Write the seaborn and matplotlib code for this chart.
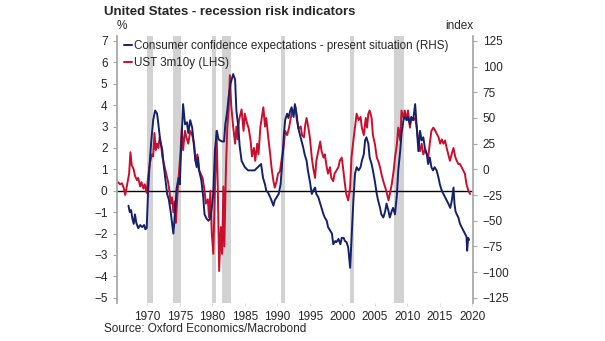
import matplotlib
matplotlib.use("Agg")
import matplotlib.pyplot as plt
from matplotlib.lines import Line2D
import seaborn as sns
import pandas as pd

# UST 3m10y term spread, % (left axis)
ust_years = [
    1965.5, 1965.8, 1966.1, 1966.4, 1966.6, 1966.9, 1967.2, 1967.4, 1967.6, 1967.9,
    1968.1, 1968.4, 1968.6, 1968.9, 1969.1, 1969.4, 1969.6, 1969.9, 1970.1, 1970.4,
    1970.7, 1970.9, 1971.1, 1971.3, 1971.5, 1971.7, 1971.9, 1972.1, 1972.3, 1972.6,
    1972.9, 1973.2, 1973.4, 1973.6, 1973.8, 1974.0, 1974.2, 1974.4, 1974.6, 1974.9,
    1975.1, 1975.3, 1975.5, 1975.8, 1976.0, 1976.3, 1976.6, 1976.9, 1977.2, 1977.4,
    1977.7, 1977.9, 1978.2, 1978.5, 1978.8, 1979.0, 1979.3, 1979.5, 1979.7, 1979.9,
    1980.15, 1980.4, 1980.65, 1980.85, 1981.05, 1981.3, 1981.5, 1981.7, 1981.85, 1982.1,
    1982.3, 1982.5, 1982.7, 1982.9, 1983.2, 1983.5, 1983.7, 1983.9, 1984.1, 1984.5,
    1984.8, 1985.0, 1985.3, 1985.6, 1985.9, 1986.1, 1986.4, 1986.6, 1986.9, 1987.1,
    1987.4, 1987.85, 1988.1, 1988.3, 1988.6, 1988.9, 1989.1, 1989.4, 1989.6, 1989.9,
    1990.1, 1990.4, 1990.7, 1990.95, 1991.2, 1991.5, 1991.8, 1992.0, 1992.3, 1992.5,
    1992.8, 1993.0, 1993.3, 1993.6, 1993.8, 1994.1, 1994.3, 1994.5, 1994.8, 1995.0,
    1995.3, 1995.5, 1995.8, 1996.0, 1996.3, 1996.6, 1996.8, 1997.1, 1997.3, 1997.6,
    1997.8, 1998.1, 1998.3, 1998.6, 1998.8, 1999.1, 1999.4, 1999.6, 1999.9, 2000.1,
    2000.4, 2000.6, 2000.9, 2001.2, 2001.4, 2001.7, 2002.0, 2002.2, 2002.5, 2002.8,
    2003.0, 2003.3, 2003.6, 2003.8, 2004.0, 2004.2, 2004.5, 2004.7, 2005.0, 2005.3,
    2005.5, 2005.8, 2006.0, 2006.3, 2006.6, 2006.8, 2007.1, 2007.3, 2007.6, 2007.9,
    2008.1, 2008.4, 2008.6, 2008.9, 2009.1, 2009.4, 2009.6, 2009.9, 2010.1, 2010.4,
    2010.6, 2010.9, 2011.2, 2011.45, 2011.7, 2011.95, 2012.2, 2012.45, 2012.7, 2013.0,
    2013.2, 2013.45, 2013.7, 2014.0, 2014.3, 2014.55, 2014.8, 2015.05, 2015.3, 2015.55,
    2015.8, 2016.05, 2016.3, 2016.55, 2016.85, 2017.1, 2017.35, 2017.6, 2017.85, 2018.1,
    2018.35, 2018.6, 2018.85, 2019.1, 2019.4, 2019.65,
]
ust_values = [
    0.4, 0.3, 0.35, 0.1, -0.2, 0.3, 0.8, 1.8, 1.2, 1.0,
    0.7, 0.5, 0.6, 0.2, 0.4, 0.1, 0.3, -0.1, 0.6, 1.3,
    1.7, 1.6, 2.7, 1.9, 2.2, 2.0, 2.5, 2.2, 1.6, 1.2,
    0.8, 0.4, 0.0, -0.6, -0.3, -1.0, -0.5, -1.5, -0.3, 1.0,
    1.8, 2.9, 1.9, 2.8, 2.5, 2.2, 2.8, 2.6, 2.2, 1.4,
    1.7, 1.0, 0.8, 0.6, 0.0, -0.6, -0.4, -1.25, 0.0, -1.9,
    -2.95, 0.1, 2.8, 0.0, -3.75, -1.7, -2.95, 0.2, -2.6, 1.1,
    2.95, 3.75, 5.4, 4.0, 3.0, 2.2, 3.0, 2.4, 3.3, 3.8,
    2.8, 3.6, 3.2, 2.9, 2.3, 1.6, 2.0, 1.4, 2.2, 1.7,
    3.0, 3.9, 3.0, 3.4, 2.5, 1.7, 1.1, 0.45, 0.15, 0.45,
    0.8, 0.9, 1.55, 2.0, 2.8, 2.6, 2.95, 3.3, 3.75, 3.6,
    3.9, 3.3, 2.9, 3.0, 2.6, 2.5, 3.1, 3.4, 2.9, 2.5,
    1.55, 1.1, 0.6, 1.4, 1.85, 2.3, 1.85, 1.55, 1.7, 1.1,
    0.8, 1.1, 0.6, 0.45, 0.8, 0.95, 1.1, 1.4, 1.55, 1.1,
    0.3, -0.15, -0.45, 0.15, 1.55, 2.35, 3.1, 3.6, 3.3, 3.45,
    2.95, 2.6, 3.4, 2.95, 3.6, 3.75, 3.4, 2.6, 2.2, 1.55,
    1.4, 1.1, 0.8, 0.45, 0.15, -0.05, -0.45, -0.15, 0.3, 0.95,
    1.55, 2.2, 2.95, 2.35, 3.75, 3.4, 3.75, 3.3, 3.75, 2.95,
    3.4, 3.3, 3.4, 2.95, 2.2, 1.85, 2.2, 1.7, 1.9, 1.7,
    1.55, 2.2, 2.8, 2.95, 2.8, 2.65, 2.5, 2.2, 2.4, 2.2,
    2.35, 2.0, 1.7, 1.4, 1.75, 2.0, 1.6, 1.4, 1.25, 1.25,
    1.1, 0.95, 0.8, 0.3, 0.0, -0.15,
]

# Consumer confidence expectations - present situation, index (right axis)
conf_years = [
    1967.1, 1967.3, 1967.5, 1967.7, 1967.9, 1968.1, 1968.3, 1968.6, 1968.9, 1969.2,
    1969.5, 1969.7, 1969.9, 1970.1, 1970.35, 1970.6, 1970.9, 1971.2, 1971.5, 1971.7,
    1972.0, 1972.3, 1972.5, 1972.8, 1973.05, 1973.3, 1973.6, 1974.0, 1974.2, 1974.5,
    1974.8, 1975.0, 1975.2, 1975.5, 1975.8, 1976.1, 1976.3, 1976.6, 1976.9, 1977.1,
    1977.4, 1977.6, 1977.8, 1978.0, 1978.3, 1978.6, 1978.8, 1979.1, 1979.4, 1979.7,
    1980.0, 1980.15, 1980.4, 1980.7, 1980.95, 1981.2, 1981.5, 1981.8, 1982.0, 1982.3,
    1982.5, 1982.8, 1983.2, 1983.5, 1983.7, 1984.0, 1984.2, 1984.5, 1985.0, 1985.5,
    1986.0, 1986.5, 1987.0, 1987.5, 1987.8, 1988.1, 1988.3, 1988.6, 1988.9, 1989.1,
    1989.4, 1989.6, 1989.9, 1990.2, 1990.5, 1990.7, 1991.0, 1991.2, 1991.5, 1991.7,
    1992.0, 1992.2, 1992.5, 1992.7, 1992.95, 1993.2, 1993.5, 1993.7, 1994.0, 1994.2,
    1994.5, 1994.7, 1995.0, 1995.3, 1995.5, 1995.8, 1996.0, 1996.3, 1996.6, 1996.8,
    1997.1, 1997.3, 1997.6, 1997.8, 1998.1, 1998.4, 1998.6, 1998.9, 1999.1, 1999.4,
    1999.7, 1999.9, 2000.2, 2000.4, 2000.65, 2000.9, 2001.2, 2001.45, 2001.7, 2001.95,
    2002.2, 2002.5, 2002.8, 2003.0, 2003.3, 2003.5, 2003.7, 2004.0, 2004.2, 2004.5,
    2004.7, 2005.0, 2005.3, 2005.5, 2005.8, 2006.0, 2006.3, 2006.6, 2006.8, 2007.1,
    2007.3, 2007.6, 2007.8, 2008.1, 2008.4, 2008.6, 2008.9, 2009.1, 2009.4, 2009.6,
    2009.9, 2010.1, 2010.4, 2010.6, 2010.9, 2011.2, 2011.45, 2011.7, 2011.95, 2012.2,
    2012.45, 2012.7, 2013.0, 2013.2, 2013.45, 2013.7, 2013.95, 2014.2, 2014.5, 2014.8,
    2015.0, 2015.3, 2015.55, 2015.8, 2016.05, 2016.3, 2016.6, 2016.85, 2017.1, 2017.25,
    2017.4, 2017.6, 2017.85, 2018.1, 2018.35, 2018.6, 2018.85, 2019.1, 2019.2, 2019.35,
    2019.5,
]
conf_values = [
    -35.4, -41.7, -39.6, -47.9, -53.1, -43.8, -52.0, -57.3, -54.2, -56.2,
    -54.2, -58.3, -57.3, -24.0, 5.2, 27.1, 47.9, 57.3, 54.2, 43.8,
    27.1, 18.8, 5.2, -11.0, -24.0, -29.2, -41.7, -62.5, -47.9, -18.8,
    -8.3, -14.6, 20.8, 63.5, 43.8, 45.8, 35.4, 47.9, 40.6, 28.1,
    8.3, 2.1, 11.5, -2.1, -10.4, -27.1, -43.8, -47.9, -50.0, -47.9,
    -33.3, -22.9, 18.8, 37.5, 29.2, 28.1, 27.1, 27.1, 43.8, 57.3,
    69.8, 83.3, 92.7, 87.5, 57.3, 40.6, 22.9, 8.3, 2.1, -1.0,
    -1.0, -1.0, 2.1, 5.2, -8.3, -14.6, -20.8, -22.9, -27.1, -30.2,
    -35.4, -30.2, -27.1, -24.0, -14.6, 2.1, 33.3, 47.9, 54.2, 50.0,
    57.3, 60.4, 51.0, 63.5, 54.2, 40.6, 33.3, 28.1, 20.8, 14.6,
    8.3, -1.0, -11.5, -24.0, -20.8, -17.7, -24.0, -27.1, -33.3, -37.5,
    -43.8, -46.9, -50.0, -56.2, -59.4, -62.5, -72.9, -69.8, -70.8, -67.7,
    -72.9, -66.7, -66.7, -69.8, -70.8, -76.0, -95.8, -62.5, -30.2, -4.2,
    2.1, -1.0, 2.1, 8.3, 14.6, 28.1, 31.2, 25.0, 11.5, 5.2,
    -1.0, -11.5, -24.0, -30.2, -37.5, -43.8, -46.9, -40.6, -33.3, -40.6,
    -46.9, -40.6, -37.5, -43.8, -24.0, -1.0, 17.7, 34.4, 47.9, 51.0,
    47.9, 51.0, 43.8, 51.0, 47.9, 63.5, 40.6, 17.7, 37.5, 28.1,
    31.2, 20.8, 14.6, 5.2, 11.5, 2.1, -1.0, 2.1, -1.0, -8.3,
    -14.6, -20.8, -24.0, -27.1, -30.2, -33.3, -37.5, -30.2, -17.7, -33.3,
    -40.6, -43.8, -46.9, -53.1, -56.2, -59.4, -62.5, -65.6, -79.2, -66.7,
    -68.7,
]

# NBER recession periods (start, end)
recessions = [
    (1969.92, 1970.83), (1973.88, 1975.17), (1980.0, 1980.5),
    (1981.5, 1982.83), (1990.5, 1991.17), (2001.17, 2001.83),
    (2007.92, 2009.42),
]

year_ticks = list(range(1970, 2021, 5))
pct_ticks = list(range(-5, 8))
index_ticks = list(range(-125, 126, 25))

RED = "#c8102e"
BLUE = "#14216b"
GREY = "#a6a6a6"

sns.set_theme(style="white")
plt.rcParams["font.family"] = ["Liberation Sans", "DejaVu Sans"]

fig = plt.figure(figsize=(6.05, 3.41), dpi=100)
W, H = 605, 341
left, right, top, bottom = 117.3, 473.0, 35.6, 303.1
ax = fig.add_axes([left / W, 1 - bottom / H, (right - left) / W, (bottom - top) / H])
ax2 = ax.twinx()

for s, e in recessions:
    ax.axvspan(s, e, color="#d2d2d2", lw=0, zorder=0)
ax.axhline(0, color="black", lw=1.0, zorder=1)

ust = pd.DataFrame({"year": ust_years, "spread": ust_values})
conf = pd.DataFrame({"year": conf_years, "index": conf_values})
sns.lineplot(data=ust, x="year", y="spread", ax=ax, color=RED, lw=1.4, zorder=2)
sns.lineplot(data=conf, x="year", y="index", ax=ax2, color=BLUE, lw=1.4)

ax.set_xlim(1965.38, 2020.1)
ax.set_ylim(-5.25, 7.25)
ax2.set_ylim(-130.2, 130.2)
ax.set_xticks(year_ticks)
ax.set_xticklabels([str(y) for y in year_ticks])
ax.set_yticks(pct_ticks)
ax2.set_yticks(index_ticks)
for a in (ax, ax2):
    a.set_xlabel("")
    a.set_ylabel("")
    for sp in a.spines.values():
        sp.set_visible(False)
ax.spines["left"].set_visible(True)
ax.spines["left"].set_color(GREY)
ax2.spines["right"].set_visible(True)
ax2.spines["right"].set_color(GREY)

ax.tick_params(axis="y", which="both", direction="out", length=3, width=0.8,
               color=GREY, labelsize=8.5, pad=4, left=True)
ax2.tick_params(axis="y", which="both", direction="out", length=3, width=0.8,
                color=GREY, labelsize=8.5, pad=4, right=True)
ax.tick_params(axis="x", direction="out", length=2, width=0.8, color="#dddddd",
               labelsize=8.5, pad=4, bottom=True)

handles = [
    Line2D([], [], color=BLUE, lw=1.4),
    Line2D([], [], color=RED, lw=1.4),
]
labels = [
    "Consumer confidence expectations - present situation (RHS)",
    "UST 3m10y (LHS)",
]
ax2.legend(handles, labels, loc="upper left", bbox_to_anchor=(0.018, 0.985),
           frameon=False, fontsize=8.35, handlelength=0.7, handletextpad=0.15,
           labelspacing=0.5, borderaxespad=0.0, borderpad=0.0)

fig.text(103.5 / W, 1 - 12 / H, "United States - recession risk indicators",
         fontsize=9.5, fontweight="bold", ha="left", va="center")
fig.text(122 / W, 1 - 26 / H, "%", fontsize=8.5, ha="center", va="center")
fig.text(473 / W, 1 - 26 / H, "index", fontsize=8.5, ha="right", va="center")
fig.text(104 / W, 1 - 329.5 / H, "Source: Oxford Economics/Macrobond",
         fontsize=8.5, ha="left", va="center")

fig.savefig("out.png", dpi=100)
